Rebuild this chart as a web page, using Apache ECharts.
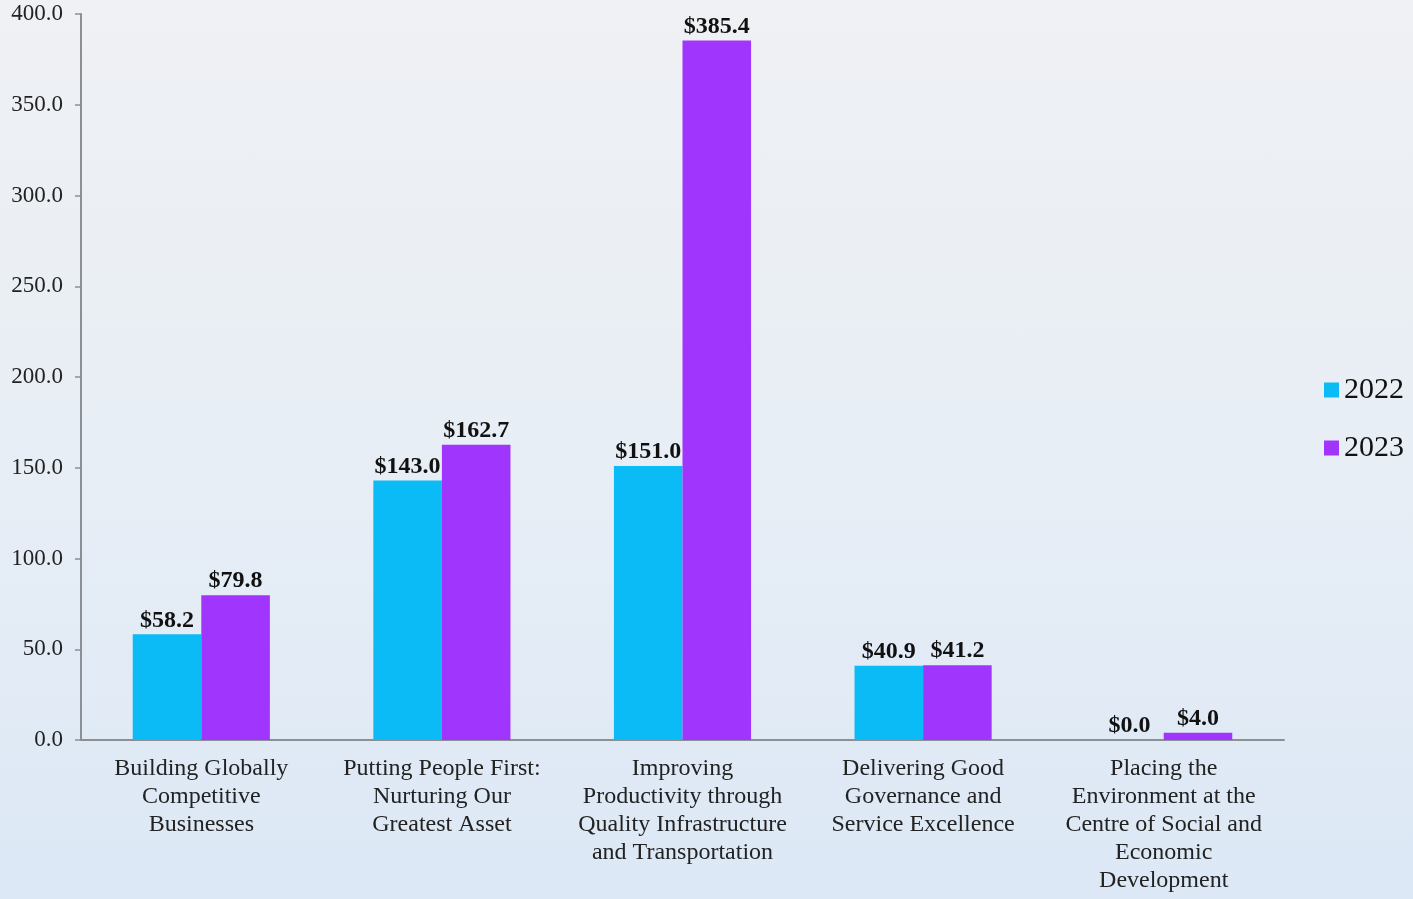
<!DOCTYPE html>
<html>
<head>
<meta charset="utf-8">
<script src="https://cdn.jsdelivr.net/npm/echarts@6/dist/echarts.min.js"></script>
<style>
html,body{margin:0;padding:0;width:1413px;height:899px;overflow:hidden;}
#chart{width:1413px;height:899px;background:linear-gradient(to bottom,#eff1f4 0%,#e8eef5 50%,#dce8f6 100%);}
</style>
</head>
<body>
<div id="chart"></div>
<script>
const categories = [
  "Building Globally\nCompetitive\nBusinesses",
  "Putting People First:\nNurturing Our\nGreatest Asset",
  "Improving\nProductivity through\nQuality Infrastructure\nand Transportation",
  "Delivering Good\nGovernance and\nService Excellence",
  "Placing the\nEnvironment at the\nCentre of Social and\nEconomic\nDevelopment"
];
const values2022 = [58.2, 143.0, 151.0, 40.9, 0.0];
const values2023 = [79.8, 162.7, 385.4, 41.2, 4.0];
const seriesNames = ["2022", "2023"];

const FONT = "'Liberation Serif', 'Times New Roman', serif";
const chart = echarts.init(document.getElementById('chart'), null, {renderer: 'canvas'});
const labelStyle = {
  show: true,
  position: 'top',
  distance: 2,
  fontFamily: FONT,
  fontSize: 24,
  fontWeight: 'bold',
  color: '#111',
  formatter: p => '$' + p.value.toFixed(1)
};
chart.setOption({
  backgroundColor: 'transparent',
  animation: false,
  grid: {left: 81, right: 129, top: 14, bottom: 159, containLabel: false},
  legend: {
    orient: 'vertical',
    right: 4,
    top: 370,
    itemWidth: 15,
    itemHeight: 15,
    itemGap: 28,
    icon: 'rect',
    textStyle: {fontFamily: FONT, fontSize: 30, color: '#111', padding: [0,0,0,0]},
    data: seriesNames
  },
  xAxis: {
    type: 'category',
    data: categories,
    axisLine: {lineStyle: {color: '#8c8f94', width: 2}},
    axisTick: {show: false},
    axisLabel: {
      interval: 0,
      fontFamily: FONT,
      fontSize: 24,
      lineHeight: 28,
      color: '#222',
      margin: 15
    }
  },
  yAxis: {
    type: 'value',
    min: 0,
    max: 400,
    interval: 50,
    splitLine: {show: false},
    axisLine: {show: true, lineStyle: {color: '#8c8f94', width: 2}},
    axisTick: {show: true, length: 6, lineStyle: {color: '#8c8f94', width: 1.5}},
    axisLabel: {
      fontFamily: FONT,
      fontSize: 23,
      color: '#222',
      margin: 18,
      formatter: v => v.toFixed(1)
    }
  },
  series: [
    {
      name: seriesNames[0],
      type: 'bar',
      data: values2022,
      barGap: '0%',
      barCategoryGap: '43%',
      itemStyle: {color: '#0bbbf5'},
      label: labelStyle
    },
    {
      name: seriesNames[1],
      type: 'bar',
      data: values2023,
      barGap: '0%',
      barCategoryGap: '43%',
      itemStyle: {color: '#a036fd'},
      label: labelStyle
    }
  ]
});
</script>
</body>
</html>
